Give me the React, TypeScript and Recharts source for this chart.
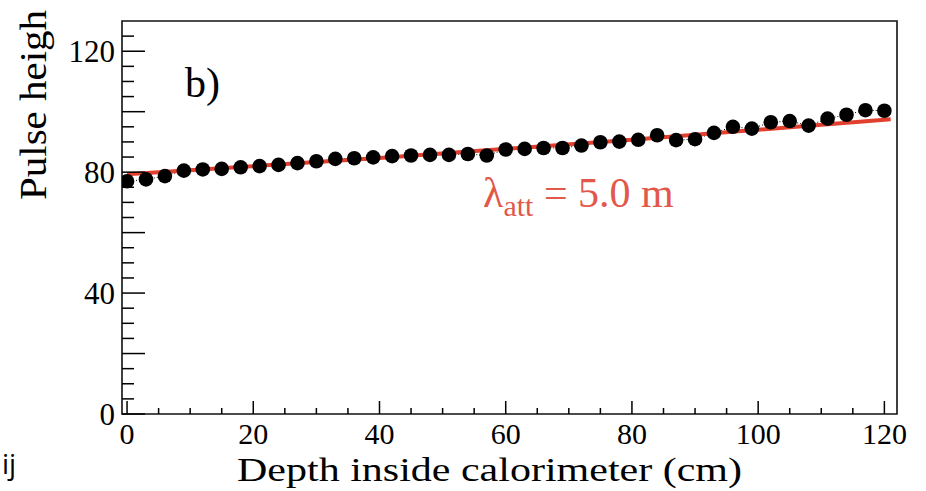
import React from "react";
import {
  ComposedChart,
  Scatter,
  Line,
  XAxis,
  YAxis,
  ReferenceArea,
} from "recharts";

// Measured pulse height versus depth inside the calorimeter
const depthCm = [
  0, 3, 6, 9, 12, 15, 18, 21, 24, 27, 30, 33, 36, 39, 42, 45, 48, 51, 54, 57,
  60, 63, 66, 69, 72, 75, 78, 81, 84, 87, 90, 93, 96, 99, 102, 105, 108, 111,
  114, 117, 120,
];
const pulseHeight = [
  77.0, 77.6, 78.7, 80.5, 80.9, 81.1, 81.6, 82.0, 82.4, 83.0, 83.6, 84.4, 84.6,
  84.9, 85.3, 85.5, 85.7, 85.7, 86.0, 85.5, 87.5, 87.7, 88.0, 88.0, 88.8, 89.9,
  90.1, 90.7, 92.2, 90.6, 90.9, 93.0, 95.0, 94.4, 96.5, 96.9, 95.4, 97.7, 99.0,
  100.5, 100.3,
];

// Attenuation fit (lambda_att = 5.0 m)
const fitDepthCm = [0, 40, 80, 121];
const fitPulseHeight = [79.3, 84.7, 90.7, 97.5];

// Axis ticks
const xTickValues = [
  0, 5, 10, 15, 20, 25, 30, 35, 40, 45, 50, 55, 60, 65, 70, 75, 80, 85, 90, 95,
  100, 105, 110, 115, 120,
];
const xLabelledTicks = [0, 20, 40, 60, 80, 100, 120];
const yTickValues = [
  0, 5, 10, 15, 20, 25, 30, 35, 40, 45, 50, 55, 60, 65, 70, 75, 80, 85, 90, 95,
  100, 105, 110, 115, 120, 125,
];
const yLabelledTicks = [0, 40, 80, 120];

const points = depthCm.map((d, i) => ({ depth: d, pulse: pulseHeight[i] }));
const fit = fitDepthCm.map((d, i) => ({ depth: d, pulse: fitPulseHeight[i] }));

const SERIF = "'Liberation Serif', 'Times New Roman', serif";
const FIT_RED = "#e2402e";
const TEXT_RED = "#e2584a";

const renderXTick = (props: any) => {
  const { x, y, payload } = props;
  const v = payload.value as number;
  const major = v % 20 === 0;
  return (
    <g key={`xt-${v}`}>
      <line
        x1={x}
        x2={x}
        y1={y}
        y2={y - (major ? 13 : 6)}
        stroke="#000"
        strokeWidth={1.5}
      />
      {xLabelledTicks.includes(v) && (
        <text
          x={x}
          y={y + 30}
          textAnchor="middle"
          fontFamily={SERIF}
          fontSize={30}
          fill="#000"
        >
          {v}
        </text>
      )}
    </g>
  );
};

const renderYTick = (props: any) => {
  const { x, y, payload } = props;
  const v = payload.value as number;
  const major = v % 20 === 0;
  return (
    <g key={`yt-${v}`}>
      <line
        x1={x}
        x2={x + (major ? 23 : 12)}
        y1={y}
        y2={y}
        stroke="#000"
        strokeWidth={1.5}
      />
      {yLabelledTicks.includes(v) && (
        <text
          x={x - 7}
          y={y + 11}
          textAnchor="end"
          fontFamily={SERIF}
          fontSize={31}
          fill="#000"
        >
          {v}
        </text>
      )}
    </g>
  );
};

const Dot = (props: any) => {
  const { cx, cy } = props;
  return <circle cx={cx} cy={cy} r={7.3} fill="#000" />;
};

export default function App() {
  return (
    <div
      style={{
        position: "absolute",
        left: 0,
        top: 0,
        width: 926,
        height: 491,
        background: "#fff",
      }}
    >
      <ComposedChart
        width={926}
        height={491}
        margin={{ top: 21, right: 29, bottom: 37, left: 62 }}
      >
        <XAxis
          dataKey="depth"
          type="number"
          domain={[-0.8, 122]}
          ticks={xTickValues}
          interval={0}
          tick={renderXTick}
          tickLine={false}
          axisLine={false}
          tickSize={0}
          tickMargin={0}
          height={40}
          allowDataOverflow
        />
        <YAxis
          dataKey="pulse"
          type="number"
          domain={[0, 130]}
          ticks={yTickValues}
          interval={0}
          tick={renderYTick}
          tickLine={false}
          axisLine={false}
          tickSize={0}
          tickMargin={0}
          width={60}
          allowDataOverflow
        />
        <ReferenceArea
          x1={-0.8}
          x2={122}
          y1={0}
          y2={130}
          fill="none"
          fillOpacity={0}
          stroke="#111"
          strokeWidth={1.6}
          ifOverflow="visible"
        />
        <Line
          data={points}
          dataKey="pulse"
          type="linear"
          stroke="#000"
          strokeWidth={1}
          strokeDasharray="1 2"
          dot={false}
          activeDot={false}
          isAnimationActive={false}
        />
        <Scatter
          data={points}
          dataKey="pulse"
          shape={<Dot />}
          isAnimationActive={false}
        />
        <Line
          data={fit}
          dataKey="pulse"
          type="monotone"
          stroke={FIT_RED}
          strokeWidth={4}
          dot={false}
          activeDot={false}
          isAnimationActive={false}
        />
      </ComposedChart>
      <svg
        width={926}
        height={491}
        style={{ position: "absolute", left: 0, top: 0, pointerEvents: "none" }}
      >
        <text x={185} y={97} fontFamily={SERIF} fontSize={42} fill="#000">
          b)
        </text>
        <text x={483} y={207} fontFamily={SERIF} fontSize={42} fill={TEXT_RED}>
          λ
          <tspan fontSize={30} dy={9}>
            att
          </tspan>
          <tspan dy={-9}> = 5.0 m</tspan>
        </text>
        <text
          x={237}
          y={481}
          fontFamily={SERIF}
          fontSize={34}
          textLength={505}
          lengthAdjust="spacingAndGlyphs"
          fill="#000"
        >
          Depth inside calorimeter (cm)
        </text>
        <text
          transform="translate(46,200) rotate(-90)"
          x={0}
          y={0}
          fontFamily={SERIF}
          fontSize={38}
          textLength={190}
          lengthAdjust="spacingAndGlyphs"
          fill="#000"
        >
          Pulse heigh
        </text>
        <text
          x={2}
          y={474}
          fontFamily="'Open Sans', 'DejaVu Sans', sans-serif"
          fontSize={28}
          fill="#000"
        >
          ij
        </text>
      </svg>
    </div>
  );
}
